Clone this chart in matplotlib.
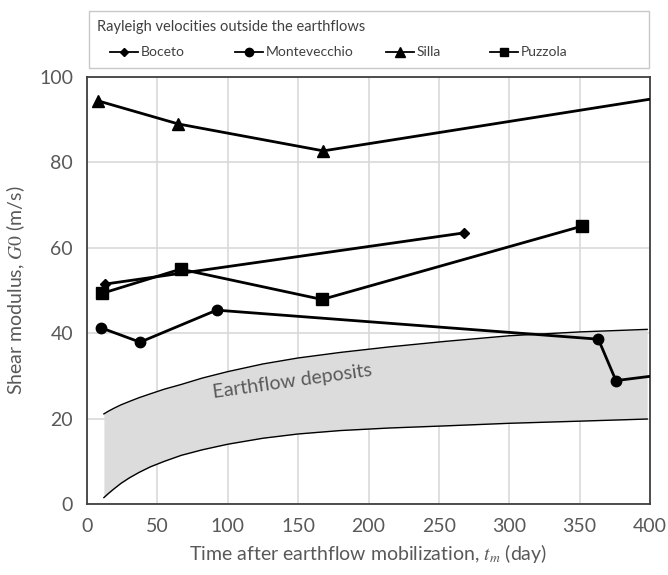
import numpy as np
import matplotlib.pyplot as plt
from matplotlib.lines import Line2D
from matplotlib.patches import Rectangle

plt.rcParams['font.family'] = ['Lato', 'DejaVu Sans']
plt.rcParams['mathtext.fontset'] = 'stix'

GRAY = "#595959"

# Rayleigh-derived G0 outside the earthflows (t in days)
boceto_t = [12.8, 268]
boceto_g = [51.5, 63.5]

monte_t = [9.7, 37.7, 92.1, 363.3, 375.8, 400]
monte_g = [41.3, 37.9, 45.4, 38.6, 28.9, 29.9]

silla_t = [8.0, 64.9, 167.9, 400]
silla_g = [94.4, 89.0, 82.7, 94.8]

puzzola_t = [10.4, 66.5, 167.0, 352.0]
puzzola_g = [49.3, 55.0, 47.9, 65.1]

# band of the earthflow deposits
band_t = [12, 15, 19, 24, 30, 37, 45, 55, 67, 82, 100, 125, 150, 180,
          215, 255, 300, 350, 398]
band_hi = [21.1, 21.7, 22.4, 23.2, 24.0, 24.9, 25.8, 26.9, 28.0, 29.5, 31.0,
           32.8, 34.2, 35.5, 36.8, 38.1, 39.4, 40.3, 40.9]
band_lo = [1.5, 2.4, 3.5, 4.8, 6.1, 7.4, 8.7, 10.0, 11.4, 12.7, 14.0,
           15.4, 16.4, 17.2, 17.8, 18.3, 18.9, 19.4, 19.9]

fig = plt.figure(figsize=(6.68, 5.75), dpi=100)
ax = fig.add_axes([87/668, 1 - 504/575, 563/668, 427/575])

ax.fill_between(band_t, band_lo, band_hi, color="#dcdcdc", lw=0, zorder=1)
ax.plot(band_t, band_hi, color="black", lw=1.0, zorder=2)
ax.plot(band_t, band_lo, color="black", lw=1.0, zorder=2)
ax.text(146, 28.8, "Earthflow deposits", rotation=8, color=GRAY, fontsize=14,
        ha="center", va="center", zorder=3)

ax.plot(boceto_t, boceto_g, color="black", lw=2, marker="D", ms=5.5, zorder=4)
ax.plot(monte_t, monte_g, color="black", lw=2, marker="o", ms=7.5,
        markevery=[0, 1, 2, 3, 4], zorder=4)
ax.plot(silla_t, silla_g, color="black", lw=2, marker="^", ms=9,
        markevery=[0, 1, 2], zorder=4)
ax.plot(puzzola_t, puzzola_g, color="black", lw=2, marker="s", ms=8, zorder=4)

ax.set_xlim(0, 400)
ax.set_ylim(0, 100)
ax.set_xticks(np.arange(0, 401, 50))
ax.set_yticks(np.arange(0, 101, 20))
ax.grid(True, color="#d9d9d9", lw=1.2, zorder=0)
ax.set_axisbelow(True)
for s in ax.spines.values():
    s.set_color("#404040")
    s.set_linewidth(1.3)
ax.tick_params(length=0, labelsize=14, colors=GRAY, pad=10)

ax.set_xlabel(r"Time after earthflow mobilization, $t_m$ (day)", fontsize=14,
              color=GRAY, labelpad=5)
ax.set_ylabel(r"Shear modulus, $G0$ (m/s)", fontsize=14, color=GRAY, labelpad=9)

# legend box above the axes
W, H = 668, 575
fig.patches.append(Rectangle((89/W, 1 - 68/H), 560/W, 57/H, transform=fig.transFigure,
                             fill=False, edgecolor="#c8c8c8", lw=1.0))
fig.text(97/W, 1 - 27/H, "Rayleigh velocities outside the earthflows", fontsize=10.5,
         color="#404040", va="center", ha="left")
entries = [("Boceto", "D", 4.5, 110), ("Montevecchio", "o", 6, 235),
           ("Silla", "^", 6.5, 386), ("Puzzola", "s", 6, 490)]
ly = 1 - 52/H
for name, mk, ms, x0 in entries:
    fig.add_artist(Line2D([x0/W, (x0 + 28)/W], [ly, ly], color="black", lw=1.3,
                          transform=fig.transFigure))
    fig.add_artist(Line2D([(x0 + 14)/W], [ly], color="black", marker=mk, ms=ms,
                          transform=fig.transFigure))
    fig.text((x0 + 31)/W, ly, name, fontsize=10, color="#404040", va="center", ha="left")

fig.savefig("out.png", dpi=100)
